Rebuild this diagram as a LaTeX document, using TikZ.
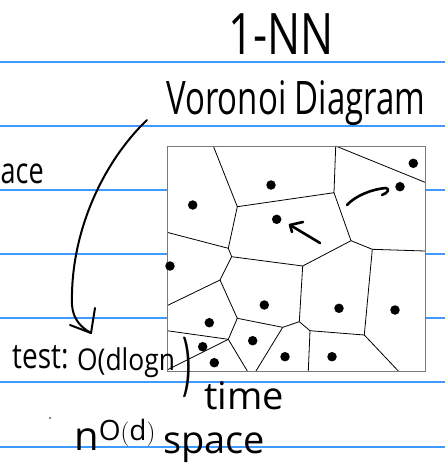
\documentclass[tikz,border=0pt]{standalone}
\usepackage{fontspec}
\setmainfont{Open Sans}
\usetikzlibrary{arrows.meta}
\definecolor{ruleblue}{HTML}{3D9BFF}
\definecolor{boxgray}{HTML}{7A7A7A}
\begin{document}
\begin{tikzpicture}[x=1pt,y=-1pt,
  rule/.style={ruleblue,line width=1.3pt},
  vedge/.style={black,line width=0.8pt},
  site/.style={circle,fill=black,inner sep=0pt,minimum size=9.5pt},
  ink/.style={black,line width=2.4pt,line cap=round,line join=round},
  hand/.style={inner sep=0pt,text=black}]
\useasboundingbox (0,0) rectangle (445,467);
\fill[white] (0,0) rectangle (445,467);
% ruled lines
\foreach \yy in {62,126,190,254,318,382,447}
  \draw[rule] (0,\yy) -- (445,\yy);
% Voronoi panel
\fill[white] (167,146) rectangle (425,371);
\coordinate (A) at (213.3,146);
\coordinate (B) at (237.3,206.7);
\coordinate (C) at (335.7,146);
\coordinate (D) at (334,192.7);
\coordinate (E) at (425,182.3);
\coordinate (F) at (351,240.7);
\coordinate (G) at (228.3,248.3);
\coordinate (H) at (167,232.3);
\coordinate (I) at (231.7,256.7);
\coordinate (J) at (302.7,266);
\coordinate (K) at (372.3,249.3);
\coordinate (L) at (425,251);
\coordinate (M) at (220,280);
\coordinate (N) at (167,305.7);
\coordinate (O) at (237.3,318.3);
\coordinate (P) at (282.7,327.3);
\coordinate (Q) at (299.3,321.7);
\coordinate (R) at (310,330.7);
\coordinate (S) at (364.3,335);
\coordinate (T) at (398.3,371);
\coordinate (U) at (228.3,339.3);
\coordinate (V) at (167,330.7);
\coordinate (W) at (167,370);
\coordinate (X) at (247.3,371);
\coordinate (Y) at (256,371);
\coordinate (Z) at (308.3,371);
\draw[vedge] (A) -- (B) -- (D) -- (C);
\draw[vedge] (C) -- (E);
\draw[vedge] (D) -- (F) -- (K) -- (L);
\draw[vedge] (B) -- (G) -- (H);
\draw[vedge] (G) -- (I) -- (J) -- (F);
\draw[vedge] (J) -- (Q);
\draw[vedge] (I) -- (M) -- (N);
\draw[vedge] (M) -- (O) -- (P) -- (Q) -- (R) -- (S) -- (K);
\draw[vedge] (S) -- (T);
\draw[vedge] (O) -- (U) -- (V);
\draw[vedge] (U) -- (W);
\draw[vedge] (U) -- (X);
\draw[vedge] (P) -- (Y);
\draw[vedge] (R) -- (Z);
\draw[boxgray,line width=0.9pt] (167,146) rectangle (425,371);
% sites
\foreach \sx/\sy [count=\i] in {413.3/163.3,400/186.7,271/185,192.7/205,276.7/219.3,170/266,264.3/305,339/308.3,395/310,209.3/322.7,202.7/346.7,252.7/340.7,214.3/362.7,285/356.7,332/356.7}
  \node[site] (s\i) at (\sx,\sy) {};
% arrows inside panel
\coordinate (a1s) at (320,243);
\coordinate (a1e) at (290,225);
\draw[ink,line width=2.6pt] (a1s) -- (a1e);
\draw[ink,line width=2.6pt] (303,222) -- (a1e) -- (292,232);
\coordinate (a2s) at (347,205);
\coordinate (a2e) at (386,188);
\draw[ink,line width=2.6pt] (a2s) .. controls (355,196) and (372,189) .. (a2e)
   .. controls (390,189) and (388,193) .. (382,195);
% long curved arrow
\coordinate (b1s) at (147,120);
\coordinate (b1e) at (91,333);
\draw[ink,line width=2pt] (b1s) .. controls (105,160) and (70,230) .. (72,305) .. controls (73,320) and (82,328) .. (b1e);
\draw[ink,line width=2pt] (70,325) -- (b1e) -- (95,308);
% texts
\node[hand,font=\fontsize{44}{48}\selectfont,yscale=1.3,anchor=base] (title) at (281,54) {1-NN};
\node[hand,font=\fontsize{33}{36}\selectfont,yscale=1.4,anchor=base west] (vor) at (166,114) {Voronoi Diagram};
\node[hand,font=\fontsize{36}{40}\selectfont,xscale=0.75,anchor=base west] (ace) at (0.5,183) {ace};
\node[hand,font=\fontsize{28}{36}\selectfont,yscale=1.25,anchor=base west] (test) at (12,368) {test:};
\node[hand,font=\fontsize{30}{36}\selectfont,xscale=0.88,anchor=base west] (cx) at (77,370) {O(dlogn};
\node[hand,font=\fontsize{30}{80}\selectfont,yscale=2.3] (par) at (187,367) {)};
\node[hand,font=\fontsize{38}{40}\selectfont,anchor=base west] (time) at (204,409) {time};
\node[hand,font=\fontsize{40}{40}\selectfont,anchor=base west] (sp) at (74,450) {n$^{\mathrm{O(d)}}$};
\node[hand,font=\fontsize{38}{40}\selectfont,anchor=base west] (space) at (163,453) {space};
\fill[black] (50,418) circle (0.9);
\end{tikzpicture}
\end{document}
